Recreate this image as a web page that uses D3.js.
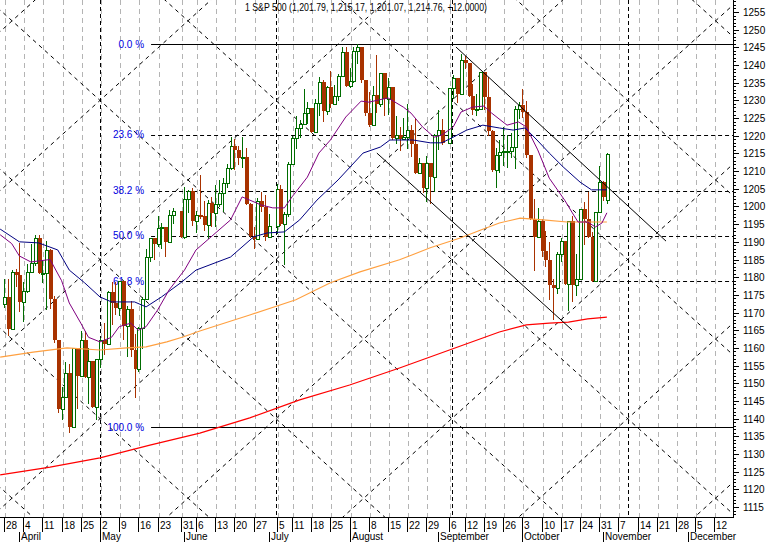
<!DOCTYPE html>
<html lang="en">
<head>
<meta charset="utf-8">
<title>S&amp;P 500 2005</title>
<script src="https://d3js.org/d3.v7.min.js"></script>
<style>
  body { margin: 0; background: #fff; }
  svg { display: block; font-family: "Liberation Sans", Arial, sans-serif; }
</style>
</head>
<body>
<svg width="768" height="542"></svg>
<script>
// ---- data ----
var firstDay = [2005, 2, 24];          // 24 Mar 2005
var lastTradingDay = "2005-11-02";
var lastAxisDay = "2005-12-16";
var holidays = ["2005-03-25", "2005-05-30", "2005-07-04", "2005-09-05"];
var monthNames = ["January","February","March","April","May","June","July","August","September","October","November","December"];

var opens = [1176.0,1172.5,1174.3,1165.4,1181.4,1180.6,
 1172.9,1176.1,1181.4,1184.1,1191.1, 1181.2,1181.2,1187.8,1173.8,1162.1,
 1142.6,1146.0,1152.8,1137.5,1160.0, 1152.1,1162.1,1151.8,1156.4,1143.2,
 1156.9,1162.2,1161.2,1175.7,1172.6, 1171.4,1178.8,1166.2,1171.1,1159.4,
 1154.1,1165.7,1173.8,1185.6,1191.1, 1189.3,1193.9,1194.1,1190.0,1197.6,
 1198.8,1191.5,1202.2,1204.3, 1196.0,1197.5,1197.3,1194.7,1200.9,
 1198.1,1200.8,1203.9,1206.6,1211.0, 1217.0,1216.1,1213.6,1213.9,1200.7,
 1191.6,1190.7,1201.6,1199.9,1191.3, 1194.4,1205.0,1194.9,1197.9,
 1211.9,1219.4,1222.2,1223.3,1226.5, 1227.9,1221.1,1229.4,1235.2,1227.0,
 1233.7,1229.0,1231.2,1236.8,1243.7, 1234.2,1235.4,1244.1,1245.0,1235.9,
 1226.4,1223.1,1231.4,1229.1,1237.8, 1230.4,1233.9,1219.3,1220.2,1219.0,
 1219.7,1221.7,1217.6,1209.6,1212.4, 1205.1,1212.3,1208.4,1220.3,1221.6,
 1218.0,1233.4,1236.4,1231.7, 1241.5,1240.6,1231.2,1227.2,1227.7,
 1237.9,1231.0,1221.3,1210.2,1214.6, 1215.3,1215.6,1215.7,1216.9,1227.7,
 1228.8,1226.7,1214.5,1196.4,1191.5, 1195.9,1187.3,1184.9,1177.7,1176.8,
 1186.6,1190.1,1178.1,1195.8,1177.8, 1179.6,1199.4,1196.5,1191.4,1178.9,
 1198.4,1207.0,1201.8];
var highs = [1179.0,1179.4,1179.6,1181.9,1182.2,1189.8,
 1178.6,1183.6,1189.3,1191.9,1191.8, 1184.8,1190.2,1187.9,1174.7,1162.1,
 1148.9,1156.0,1155.5,1159.9,1160.0, 1164.8,1164.8,1159.9,1156.4,1156.9,
 1162.9,1166.9,1176.0,1178.6,1178.7, 1178.9,1178.8,1171.8,1173.4,1163.8,
 1165.8,1174.4,1187.9,1191.1,1191.2, 1197.4,1195.3,1194.1,1198.9,1199.6,
 1198.8,1205.6,1204.7,1205.1, 1198.8,1208.8,1201.6,1201.9,1202.8,
 1206.0,1207.5,1208.1,1212.1,1219.6, 1219.1,1217.1,1219.6,1216.5,1200.9,
 1194.3,1202.5,1204.1,1203.3,1197.9, 1206.3,1206.1,1198.5,1212.7,
 1220.0,1225.5,1224.5,1233.2,1229.5, 1227.9,1230.4,1236.6,1235.8,1234.2,
 1238.4,1234.4,1237.6,1245.2,1245.0, 1239.1,1245.2,1245.9,1245.0,1235.9,
 1232.3,1234.1,1242.7,1237.8,1237.8, 1236.2,1233.9,1225.6,1222.6,1225.1,
 1228.9,1223.0,1224.9,1213.7,1212.4, 1214.3,1212.3,1220.4,1227.3,1224.6,
 1233.6,1237.1,1236.4,1243.1, 1242.6,1240.6,1234.7,1231.9,1237.9,
 1237.9,1236.5,1221.5,1216.6,1218.8, 1222.6,1220.2,1220.9,1228.4,1229.6,
 1233.3,1229.9,1214.5,1202.1,1199.7, 1196.5,1193.1,1190.0,1179.6,1187.1,
 1191.2,1190.1,1195.8,1197.3,1186.5, 1199.4,1201.3,1204.0,1192.7,1198.4,
 1211.4,1207.3,1215.2];
var lows = [1171.0,1171.6,1163.7,1165.4,1177.5,1170.5,
 1167.7,1175.9,1181.4,1183.4,1181.2, 1178.7,1170.9,1171.4,1161.7,1141.9,
 1139.8,1146.0,1136.2,1137.5,1142.9, 1152.1,1151.8,1144.4,1143.2,1139.8,
 1154.7,1158.3,1161.2,1166.8,1169.5, 1169.4,1162.5,1157.7,1157.8,1146.2,
 1153.6,1159.9,1173.8,1184.5,1185.2, 1188.8,1188.2,1185.9,1190.0,1195.3,
 1191.5,1191.0,1198.4,1194.8, 1192.8,1196.7,1193.3,1191.1,1194.4,
 1194.5,1200.2,1198.7,1205.5,1210.7, 1210.6,1211.9,1211.1,1200.6,1191.5,
 1188.3,1190.7,1198.7,1190.5,1191.3, 1192.5,1194.8,1183.6,1197.2,
 1211.9,1216.6,1219.6,1223.3,1223.5, 1221.1,1221.1,1225.9,1224.1,1226.2,
 1228.2,1229.0,1230.2,1236.8,1234.2, 1233.8,1235.2,1240.6,1235.2,1225.9,
 1222.7,1223.1,1226.6,1228.3,1225.9, 1226.2,1219.1,1218.0,1215.9,1219.0,
 1216.5,1214.4,1209.6,1209.6,1204.2, 1201.5,1201.0,1204.4,1216.2,1217.8,
 1218.0,1230.8,1229.5,1231.7, 1239.2,1231.2,1226.2,1225.8,1227.7,
 1227.7,1220.1,1209.9,1205.4,1209.8, 1211.8,1211.1,1213.9,1211.0,1225.0,
 1225.2,1214.0,1196.4,1181.9,1191.5, 1186.1,1183.2,1173.7,1168.2,1175.4,
 1184.5,1178.1,1170.6,1173.4,1174.9, 1179.6,1189.3,1191.4,1178.9,1178.9,
 1198.4,1201.7,1201.1];
var closes = [1172.5,1174.3,1165.4,1181.4,1180.6,1172.9,
 1176.1,1181.4,1184.1,1191.1,1181.2, 1181.2,1187.8,1173.8,1162.1,1142.6,
 1146.0,1152.8,1137.5,1160.0,1152.1, 1162.1,1151.8,1156.4,1143.2,1156.9,
 1162.2,1161.2,1175.7,1172.6,1171.4, 1178.8,1166.2,1171.1,1159.4,1154.1,
 1165.7,1173.8,1185.6,1191.1,1189.3, 1193.9,1194.1,1190.0,1197.6,1198.8,
 1191.5,1202.2,1204.3,1196.0, 1197.5,1197.3,1194.7,1200.9,1198.1,
 1200.8,1203.9,1206.6,1211.0,1217.0, 1216.1,1213.6,1213.9,1200.7,1191.6,
 1190.7,1201.6,1199.9,1191.3,1194.4, 1205.0,1194.9,1197.9,1211.9,
 1219.4,1222.2,1223.3,1226.5,1227.9, 1221.1,1229.4,1235.2,1227.0,1233.7,
 1229.0,1231.2,1236.8,1243.7,1234.2, 1235.4,1244.1,1245.0,1235.9,1226.4,
 1223.1,1231.4,1229.1,1237.8,1230.4, 1233.9,1219.3,1220.2,1219.0,1219.7,
 1221.7,1217.6,1209.6,1212.4,1205.1, 1212.3,1208.4,1220.3,1221.6,1218.0,
 1233.4,1236.4,1231.7,1241.5, 1240.6,1231.2,1227.2,1227.7,1237.9,
 1231.0,1221.3,1210.2,1214.6,1215.3, 1215.6,1215.7,1216.9,1227.7,1228.8,
 1226.7,1214.5,1196.4,1191.5,1195.9, 1187.3,1184.9,1177.7,1176.8,1186.6,
 1190.1,1178.1,1195.8,1177.8,1179.6, 1199.4,1196.5,1191.4,1178.9,1198.4,
 1207.0,1202.8,1214.8];

// moving averages: [weekday number from 28 Mar, value]
var maPurple = [[-1,1192],[2,1189.5],[4,1186],[7,1184.3],[12,1185],[15,1179],[17,1172.7],[20,1167],
 [22,1163],[25,1161.7],[28,1163],[30,1166],[33,1167],[35,1165],[37,1166],[40,1170.7],[43,1176.4],
 [47,1182],[50,1187.7],[59,1196.2],[62,1202.7],[64,1201.8],[67,1200.4],[70,1199.6],[73,1199.6],
 [75,1202.7],[79,1208.3],[82,1215.1],[85,1218.8],[89,1225.3],[93,1229.8],[95,1229.5],[100,1230.7],
 [104,1228.1],[106,1226.4],[109,1222.5],[112,1219.6],[114,1220.2],[117,1222.5],[119,1226.7],
 [122,1228.1],[125,1228.4],[127,1226.4],[131,1223],[134,1223.9],[136,1222.5],[139,1216],
 [142,1208],[146,1201.8],[148,1198.2],[149.5,1195.6],[152,1195.6],[154,1194.2],[155.7,1195.3],[157,1198.2]];
var maNavy = [[-1,1193.6],[4,1190],[9,1189.7],[14,1187.7],[17,1182],[21,1178.4],[25,1174.4],[28,1173],
 [34,1173],[37,1171.6],[41,1174.4],[46,1178.4],[50,1182],[59,1185.7],[65,1191.4],[68.5,1192.5],
 [73,1192.8],[77,1196.2],[81.5,1201.8],[87,1207.5],[93.5,1215.1],[98,1216.8],[100.5,1218.8],
 [106.5,1218.8],[111,1218],[114,1218],[117,1219.6],[120.5,1221.6],[124.7,1223],[129,1222.2],
 [132.6,1221.6],[135.7,1222.2],[138.8,1218.8],[142,1215.1],[145.6,1211.2],[150,1206.9],[153,1204.7],[157,1204.7]];
var maOrange = [[-1,1157.4],[7.6,1158.8],[16.4,1160],[25,1159.4],[32,1160],[37,1160.3],[42.4,1161.7],
 [46.6,1163.1],[51,1164.8],[64,1169.3],[76,1173.6],[85,1178.4],[92.7,1181.5],[103,1184.9],[111,1188.3],
 [118.8,1191.1],[124,1193.3],[129,1195.3],[134.4,1196.7],[140.4,1196.2],[146.6,1195.6],[151.8,1195.6],[157,1195.6]];
var maRed = [[-1,1124.1],[12,1126.3],[25,1128.9],[38,1132.5],[51,1135.9],[64,1140.2],[77,1145.3],
 [90,1149.5],[103,1154.3],[116,1159.4],[129,1164.5],[136,1166.5],[142,1167],[147,1167.3],[152,1168.2],[157,1168.7]];

// drawn objects
var fibHigh = 1245.86, fibLow = 1137.5, fibStart = 38.3;
var fibLevels = [0, 23.6, 38.2, 50, 61.8, 100];
var channelUpper = [[117.7,1245.1],[172.4,1190.2]];
var channelLower = [[97.1,1215.1],[147.9,1165.1]];
var gannSlot0 = 25, gannPrice0 = 1230, gannSlotStep = 22.9, gannPriceStep = 22.5;
var priceTicks = d3.range(1115, 1256, 5);
var title = "1 S&P 500 (1,201.79, 1,215.17, 1,201.07, 1,214.76, +12.0000)";

// ---- calendar: weekday slots (holidays keep an empty slot) ----
var fmt = d3.utcFormat("%Y-%m-%d");
var days = [];
var t = Date.UTC(firstDay[0], firstDay[1], firstDay[2]), slot = -2;
while (fmt(new Date(t)) <= lastAxisDay) {
  var dt = new Date(t), wd = dt.getUTCDay();
  if (wd > 0 && wd < 6) {
    days.push({date: dt, key: fmt(dt), slot: slot, trading: holidays.indexOf(fmt(dt)) < 0});
    slot++;
  }
  t += 86400000;
}
var tradeDays = days.filter(function(d){ return d.trading && d.key <= lastTradingDay; });
var bars = tradeDays.map(function(d, i){
  return {slot: d.slot, o: opens[i], h: highs[i], l: lows[i], c: closes[i]};
});

// first trading day of each week / month
var weekTicks = [], monthTicks = [], seenW = {}, seenM = {};
days.forEach(function(d){
  if (!d.trading || d.slot < 0) return;
  var w = Math.floor(d.slot / 5);
  if (!seenW[w]) { seenW[w] = 1; weekTicks.push(d); }
  var m = d.date.getUTCMonth();
  if (!seenM[m] && d.date.getUTCDate() <= 7) { seenM[m] = 1; monthTicks.push(d); }
});

// ---- layout ----
var svg = d3.select("svg");
var plotW = 733, plotH = 517;
var x = d3.scaleLinear().domain([0, 185]).range([4, 714.4]);
var y = d3.scaleLinear().domain([1115, 1255]).range([507, 12]);

svg.append("rect").attr("width", 768).attr("height", 542).attr("fill", "#fff");
svg.append("clipPath").attr("id", "clip").append("rect")
  .attr("width", plotW).attr("height", plotH);
var plot = svg.append("g").attr("clip-path", "url(#clip)");

// weekly grid
plot.selectAll(".vgrid").data(weekTicks).enter().append("line")
  .attr("x1", function(d){ return Math.round(x(d.slot)) + 1.5; })
  .attr("x2", function(d){ return Math.round(x(d.slot)) + 1.5; })
  .attr("y1", 0).attr("y2", plotH)
  .attr("stroke", "#b4b4b4").attr("stroke-dasharray", "5,4");

// gann lattice
var evenU = d3.range(0, 10, 2);
plot.selectAll(".gv").data(evenU).enter().append("line")
  .attr("x1", function(u){ return Math.round(x(gannSlot0 + u * gannSlotStep)) + 0.5; })
  .attr("x2", function(u){ return Math.round(x(gannSlot0 + u * gannSlotStep)) + 0.5; })
  .attr("y1", 0).attr("y2", plotH)
  .attr("stroke", "#000").attr("stroke-dasharray", "4,3");

var diag = [];
d3.range(-10, 18, 2).forEach(function(c){
  diag.push({c: c, s: 1});
  diag.push({c: c, s: -1});
});
function gx(u){ return x(gannSlot0 + u * gannSlotStep); }
function gy(v){ return y(gannPrice0 + v * gannPriceStep); }
plot.selectAll(".gd").data(diag).enter().append("line")
  .attr("x1", gx(-4)).attr("x2", gx(12))
  .attr("y1", function(d){ return gy(d.s > 0 ? -4 - d.c : d.c + 4); })
  .attr("y2", function(d){ return gy(d.s > 0 ? 12 - d.c : d.c - 12); })
  .attr("stroke", "#000").attr("stroke-width", 1).attr("stroke-dasharray", "4,4");

// fibonacci
var fib = fibLevels.map(function(p){ return {p: p, v: fibHigh - (fibHigh - fibLow) * p / 100}; });
plot.selectAll(".fib").data(fib).enter().append("line")
  .attr("x1", x(fibStart)).attr("x2", plotW)
  .attr("y1", function(d){ return Math.round(y(d.v)) + 0.5; })
  .attr("y2", function(d){ return Math.round(y(d.v)) + 0.5; })
  .attr("stroke", "#000")
  .attr("stroke-dasharray", function(d){ return (d.p === 0 || d.p === 100) ? null : "4,3"; });
plot.selectAll(".fibl").data(fib).enter().append("text")
  .attr("x", x(fibStart) - 7).attr("y", function(d){ return y(d.v) + 3.5; })
  .attr("text-anchor", "end").attr("font-size", 10).attr("fill", "#0000e0")
  .text(function(d){ return d.p.toFixed(1) + " %"; });

// candles
var upCol = "#006c00", dnCol = "#a83200";
var cand = plot.selectAll(".bar").data(bars).enter().append("g");
cand.append("line")
  .attr("x1", function(d){ return Math.round(x(d.slot)) + 0.5; })
  .attr("x2", function(d){ return Math.round(x(d.slot)) + 0.5; })
  .attr("y1", function(d){ return Math.round(y(d.h)); })
  .attr("y2", function(d){ return Math.round(y(d.l)) + 1; })
  .attr("stroke", function(d){ return d.c >= d.o ? upCol : dnCol; });
cand.append("rect")
  .attr("x", function(d){ return Math.round(x(d.slot)) - 1 + (d.c >= d.o ? 0.5 : 0); })
  .attr("width", function(d){ return d.c >= d.o ? 3 : 4; })
  .attr("y", function(d){ return Math.round(y(Math.max(d.o, d.c))) + (d.c >= d.o ? 0.5 : 0); })
  .attr("height", function(d){
    var hgt = Math.round(y(Math.min(d.o, d.c))) - Math.round(y(Math.max(d.o, d.c)));
    return d.c >= d.o ? Math.max(hgt, 1) : Math.max(hgt, 2);
  })
  .attr("fill", function(d){ return d.c >= d.o ? "#fff" : dnCol; })
  .attr("stroke", function(d){ return d.c >= d.o ? upCol : "none"; });

// moving averages
var line = d3.line().x(function(d){ return x(d[0]); }).y(function(d){ return y(d[1]); });
[[maRed, "#ff0000", 1.2], [maOrange, "#ffa040", 1.1], [maNavy, "#000080", 1], [maPurple, "#800080", 1]]
  .forEach(function(m){
    plot.append("path").attr("d", line(m[0])).attr("fill", "none")
      .attr("stroke", m[1]).attr("stroke-width", m[2]);
  });

// channel
[channelUpper, channelLower].forEach(function(c){
  plot.append("path").attr("d", line(c)).attr("fill", "none")
    .attr("stroke", "#000").attr("stroke-width", 1);
});

// price axis
var ax = svg.append("g").attr("transform", "translate(" + plotW + ",0)");
ax.append("line").attr("x1", 0.5).attr("x2", 0.5).attr("y1", 0).attr("y2", plotH + 1).attr("stroke", "#000");
ax.selectAll(".mt").data(d3.range(1113, 1259, 1)).enter().append("line")
  .attr("x1", 0).attr("x2", function(v){ return v % 5 === 0 ? 6 : 3; })
  .attr("y1", function(v){ return Math.round(y(v)) + 0.5; })
  .attr("y2", function(v){ return Math.round(y(v)) + 0.5; })
  .attr("stroke", "#000");
ax.selectAll(".pl").data(priceTicks).enter().append("text")
  .attr("x", 10).attr("y", function(v){ return y(v) + 4; })
  .attr("font-size", 10).attr("fill", "#000").text(function(v){ return v; });

// date axis
var bx = svg.append("g");
bx.append("line").attr("x1", 0).attr("x2", plotW + 1).attr("y1", plotH + 0.5).attr("y2", plotH + 0.5).attr("stroke", "#000");
bx.selectAll(".wt").data(weekTicks).enter().append("line")
  .attr("x1", function(d){ return Math.round(x(d.slot)) + 0.5; })
  .attr("x2", function(d){ return Math.round(x(d.slot)) + 0.5; })
  .attr("y1", plotH).attr("y2", plotH + 15).attr("stroke", "#000");
bx.selectAll(".wl").data(weekTicks).enter().append("text")
  .attr("x", function(d){ return Math.round(x(d.slot)) + 2; })
  .attr("y", plotH + 12).attr("font-size", 10).attr("fill", "#000")
  .text(function(d){ return d.date.getUTCDate(); });
bx.selectAll(".mt2").data(monthTicks).enter().append("line")
  .attr("x1", function(d){ return Math.round(x(d.slot)) + 0.5; })
  .attr("x2", function(d){ return Math.round(x(d.slot)) + 0.5; })
  .attr("y1", plotH + 15).attr("y2", 542).attr("stroke", "#000");
bx.selectAll(".ml").data(monthTicks).enter().append("text")
  .attr("x", function(d){ return Math.round(x(d.slot)) + 2; })
  .attr("y", 540).attr("font-size", 10).attr("fill", "#000")
  .text(function(d){ return monthNames[d.date.getUTCMonth()]; });

// title
svg.append("text").attr("x", 245).attr("y", 11).attr("font-size", 10.5).attr("fill", "#000")
  .attr("textLength", 242).attr("lengthAdjust", "spacingAndGlyphs").text(title);
</script>
</body>
</html>
